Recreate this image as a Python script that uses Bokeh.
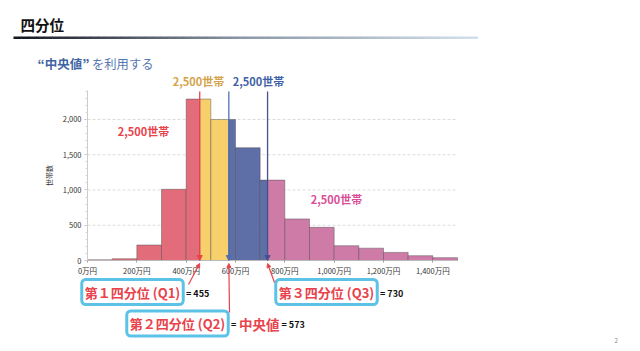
from bokeh.plotting import figure
from bokeh.models import Range1d, Label, Arrow, NormalHead, FixedTicker, ColumnDataSource, LinearAxis
from bokeh.embed import file_html
from bokeh.resources import INLINE

# ---------------- data ----------------
bin_edges = [0, 100, 200, 300, 400, 500, 600, 700, 800, 900, 1000, 1100, 1200, 1300, 1400, 1500]
counts = [10, 25, 220, 1010, 2290, 2000, 1600, 1140, 590, 470, 210, 175, 115, 68, 40]
quartiles = [455, 573, 730]
quartile_values_text = ["= 455", "= 573", "= 730"]
x_ticks = [0, 200, 400, 600, 800, 1000, 1200, 1400]
x_tick_labels = ["0万円", "200万円", "400万円", "600万円", "800万円", "1,000万円", "1,200万円", "1,400万円"]
y_ticks = [0, 500, 1000, 1500, 2000]
y_tick_labels = ["0", "500", "1,000", "1,500", "2,000"]
group_label = "2,500世帯"

# ---------------- style ----------------
FONT = "Noto Sans CJK JP"
group_colors = ["#E26C79", "#F7CF6B", "#5E6EA6", "#CF7BA8"]
qline_colors = ["#E8434C", "#4E70B2", "#4B4F8F"]
label_colors = ["#E8434C", "#D4A34A", "#3F62A6", "#DB4E98"]
RED = "#E8434C"
BOXC = "#5CC2E6"

# chart-area geometry (pixels on the 640x351 slide)
FL, FR, FT, FB = 87, 457, 90, 260
W, H = 640, 351
XMAX = 1500
YMAX = 2411


def dx(px):
    return (px - FL) / (FR - FL) * XMAX


def dy(py):
    return (FB - py) / (FB - FT) * YMAX


p = figure(width=W, height=H, output_backend="svg", toolbar_location=None,
           x_range=Range1d(dx(0), dx(W)), y_range=Range1d(dy(H), dy(0)),
           x_axis_location=None, y_axis_location=None,
           min_border=0, min_border_left=0, min_border_right=0,
           min_border_top=0, min_border_bottom=0,
           background_fill_color="white", border_fill_color="white",
           outline_line_color=None)
p.xgrid.visible = False
p.ygrid.visible = False

# ---------------- grid lines (dashed) ----------------
p.segment(x0=0, x1=XMAX, y0=y_ticks[1:], y1=y_ticks[1:], line_color="#dcdcdc",
          line_dash="3 2", line_width=1)

# ---------------- bars split by quartiles ----------------
L, R, T, C = [], [], [], []
for lo, hi, c in zip(bin_edges[:-1], bin_edges[1:], counts):
    cuts = [lo] + [q for q in quartiles if lo < q < hi] + [hi]
    for a, b in zip(cuts[:-1], cuts[1:]):
        g = sum(1 for q in quartiles if q <= a)
        L.append(a); R.append(b); T.append(c); C.append(group_colors[g])
src = ColumnDataSource(dict(left=L, right=R, top=T, color=C))
p.quad(left="left", right="right", top="top", bottom=0, fill_color="color",
       line_color="#4a4a4a", line_alpha=0.55, line_width=0.8, source=src)

# ---------------- axes ----------------
xa = LinearAxis(fixed_location=0, bounds=(0, XMAX))
xa.ticker = FixedTicker(ticks=x_ticks, minor_ticks=bin_edges)
xa.major_label_overrides = {t: s for t, s in zip(x_ticks, x_tick_labels)}
xa.axis_line_color = "#bbbbbb"
xa.major_tick_line_color = "#999999"
xa.major_tick_in = 0
xa.major_tick_out = 2
xa.minor_tick_line_color = None
xa.major_label_standoff = 0
xa.major_label_text_font = FONT
xa.major_label_text_font_size = "7.5px"
xa.major_label_text_color = "#333333"
p.add_layout(xa, "below")

ya = LinearAxis(fixed_location=0, bounds=(0, YMAX))
ya.ticker = FixedTicker(ticks=y_ticks, minor_ticks=list(range(0, 2401, 100)))
ya.major_label_overrides = {t: s for t, s in zip(y_ticks, y_tick_labels)}
ya.axis_line_color = "#cccccc"
ya.major_tick_line_color = "#bbbbbb"
ya.major_tick_in = 0
ya.major_tick_out = 3
ya.minor_tick_line_color = "#d5d5d5"
ya.minor_tick_in = 0
ya.minor_tick_out = 2
ya.major_label_standoff = 3
ya.major_label_text_font = FONT
ya.major_label_text_font_size = "7.5px"
ya.major_label_text_color = "#333333"
ya.axis_label = "世帯数"
ya.axis_label_text_font = FONT
ya.axis_label_text_font_size = "7px"
ya.axis_label_text_font_style = "normal"
ya.axis_label_text_color = "#333333"
ya.axis_label_standoff = 6
p.add_layout(ya, "left")

# ---------------- quartile lines ----------------
for q, col in zip(quartiles, qline_colors):
    p.add_layout(Arrow(x_start=q, y_start=dy(91), x_end=q, y_end=0,
                       line_color=col, line_width=1.3,
                       end=NormalHead(size=5, fill_color=col, line_color=col)))

# ---------------- slide title & underline ----------------
p.add_layout(Label(x=dx(20), y=dy(24), text="四分位", text_font=FONT,
                   text_font_size="14.5px", text_font_style="bold",
                   text_color="#111111", text_baseline="middle"))


def mix(c1, c2, t):
    a = [int(c1[i:i + 2], 16) for i in (1, 3, 5)]
    b = [int(c2[i:i + 2], 16) for i in (1, 3, 5)]
    return "#%02x%02x%02x" % tuple(round(a[k] + (b[k] - a[k]) * t) for k in range(3))


n = 60
gx0, gx1 = 13, 477
gs = dict(xs=[], xe=[], col=[])
for i in range(n):
    t = i / (n - 1)
    gs["xs"].append(dx(gx0 + (gx1 - gx0) * i / n))
    gs["xe"].append(dx(gx0 + (gx1 - gx0) * (i + 1) / n + 0.5))
    if t < 0.5:
        gs["col"].append(mix("#141821", "#8d98a8", t / 0.5))
    else:
        gs["col"].append(mix("#8d98a8", "#d3deec", (t - 0.5) / 0.5))
gsrc = ColumnDataSource(dict(xs=gs["xs"], xe=gs["xe"], ys=[dy(37.3)] * n, col=gs["col"]))
p.add_layout(Arrow(x_start="xs", y_start="ys", x_end="xe", y_end="ys", line_color="col",
                   line_width=2.5, end=None, source=gsrc))

# subtitle
p.add_layout(Label(x=dx(37), y=dy(63), text="“中央値”", text_font=FONT,
                   text_font_size="12.5px", text_font_style="bold",
                   text_color="#3F64A3", text_baseline="middle"))
p.add_layout(Label(x=dx(91.5), y=dy(63), text="を利用する", text_font=FONT,
                   text_font_size="12.3px", text_color="#5577B0", text_baseline="middle"))

# group labels
for (px, py), col in zip([(143, 130), (198, 80), (258, 80), (336, 198)], label_colors):
    p.add_layout(Label(x=dx(px), y=dy(py), text=group_label, text_font=FONT,
                       text_font_size="11px", text_font_style="bold", text_color=col,
                       text_align="center", text_baseline="middle"))

# ---------------- quartile boxes ----------------
box_texts = ["第１四分位 (Q1)", "第２四分位 (Q2)", "第３四分位 (Q3)"]
box_centers = [(132, 291.5), (177, 323), (326, 291.5)]
for txt, (cx, cy) in zip(box_texts, box_centers):
    p.add_layout(Label(x=dx(cx), y=dy(cy), text=txt, text_font=FONT,
                       text_font_size="13px", text_font_style="bold", text_color=RED,
                       text_align="center", text_baseline="middle",
                       background_fill_color="white", border_line_color=BOXC,
                       border_line_width=3, padding=3, border_radius=4))

# arrows from boxes to axis
arrow_starts = [(188, 284), (229, 312), (274, 282)]
for q, (sx, sy) in zip(quartiles, arrow_starts):
    p.add_layout(Arrow(x_start=dx(sx), y_start=dy(sy), x_end=q, y_end=dy(263),
                       line_color=RED, line_width=1.2,
                       end=NormalHead(size=4, fill_color=RED, line_color=RED)))

# "= value" texts
val_pos = [(185.5, 292.5), (281, 324), (379.5, 292.5)]
for txt, (px, py) in zip(quartile_values_text, val_pos):
    p.add_layout(Label(x=dx(px), y=dy(py), text=txt, text_font=FONT,
                       text_font_size="9px", text_font_style="bold", text_color="#111111",
                       text_baseline="middle"))
p.add_layout(Label(x=dx(230.5), y=dy(324), text="=", text_font=FONT,
                   text_font_size="9px", text_font_style="bold", text_color="#111111",
                   text_baseline="middle"))
p.add_layout(Label(x=dx(238.5), y=dy(323), text="中央値", text_font=FONT,
                   text_font_size="13.5px", text_font_style="bold", text_color=RED,
                   text_baseline="middle"))

# page number
p.add_layout(Label(x=dx(614), y=dy(340), text="2", text_font=FONT,
                   text_font_size="6px", text_color="#888888", text_baseline="middle"))

open("out.html", "w").write(file_html(p, INLINE))
